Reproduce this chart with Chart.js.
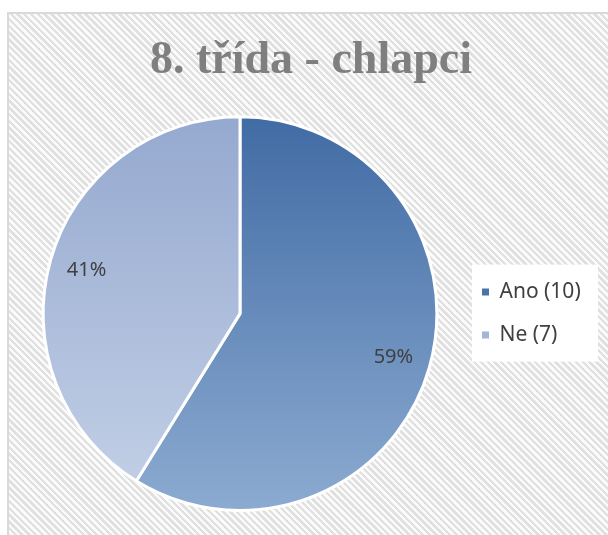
<!DOCTYPE html>
<html>
<head>
<meta charset="utf-8">
<script src="https://cdn.jsdelivr.net/npm/chart.js@4"></script>
<style>
  html, body { margin: 0; padding: 0; background: #fff; }
  #wrap { position: relative; width: 608px; height: 535px; overflow: hidden; }
  #frame {
    position: absolute; left: 7px; top: 12px; width: 640px; height: 560px;
    border: 2px solid #d9d9d9;
    background: repeating-linear-gradient(45deg, #fbfbfb 0 2.4px, #e0e0e0 2.4px 4.8px);
  }
  #chart { position: absolute; left: 0; top: 0; }
</style>
</head>
<body>
<div id="wrap">
  <div id="frame"></div>
  <canvas id="chart" width="608" height="535"></canvas>
</div>
<script>
// 8. třída - chlapci : answers of the boys
const CATEGORIES = ['Ano', 'Ne'];
const COUNTS = [10, 7];

const TEXT = '#404040';
const TITLE_GREY = '#7f7f7f';
const TOP_COLORS = ['#416ba4', '#95a9cf'];
const BOTTOM_COLORS = ['#8cabd1', '#c4d1e7'];
const MARKER_COLORS = ['#4a74aa', '#a3b6d8'];

const total = COUNTS.reduce((a, b) => a + b, 0);

function sliceFill(ctx) {
  const area = ctx.chart.chartArea;
  if (!area) return TOP_COLORS[ctx.dataIndex];
  const g = ctx.chart.ctx.createLinearGradient(0, area.top, 0, area.bottom);
  g.addColorStop(0, TOP_COLORS[ctx.dataIndex]);
  g.addColorStop(1, BOTTOM_COLORS[ctx.dataIndex]);
  return g;
}

// white box behind the legend + legend width fix
const legendBox = {
  id: 'legendBox',
  beforeLayout(chart) {
    const lg = chart.legend;
    if (lg && !lg._patched) {
      const fit = lg.fit;
      lg.fit = function () { fit.call(this); this.width = 142; };
      lg._patched = true;
    }
  },
  beforeDraw(chart) {
    const lg = chart.legend;
    if (!lg || !lg.legendHitBoxes.length) return;
    const hb = lg.legendHitBoxes;
    const ctx = chart.ctx;
    ctx.save();
    ctx.fillStyle = '#ffffff';
    const top = hb[0].top - 17;
    const bottom = hb[hb.length - 1].top + hb[hb.length - 1].height + 16;
    ctx.fillRect(lg.left + 12, top, lg.width - 16, bottom - top);
    ctx.restore();
  }
};

// percentage labels inside the slices
const pctLabels = {
  id: 'pctLabels',
  afterDatasetsDraw(chart) {
    const ctx = chart.ctx;
    const meta = chart.getDatasetMeta(0);
    ctx.save();
    ctx.font = '20px "Noto Sans"';
    ctx.fillStyle = TEXT;
    ctx.textAlign = 'center';
    ctx.textBaseline = 'middle';
    meta.data.forEach((arc, i) => {
      const p = arc.getProps(['x', 'y', 'startAngle', 'endAngle', 'outerRadius'], true);
      const mid = (p.startAngle + p.endAngle) / 2;
      const r = p.outerRadius * 0.81;
      const txt = Math.round(COUNTS[i] / total * 100) + '%';
      ctx.fillText(txt, p.x + Math.cos(mid) * r, p.y + Math.sin(mid) * r);
    });
    ctx.restore();
  }
};

new Chart(document.getElementById('chart'), {
  type: 'pie',
  data: {
    labels: CATEGORIES.map((c, i) => c + ' (' + COUNTS[i] + ')'),
    datasets: [{
      data: COUNTS,
      backgroundColor: sliceFill,
      borderColor: '#ffffff',
      borderWidth: 3
    }]
  },
  options: {
    responsive: false,
    animation: false,
    layout: { padding: { left: 20, right: 6, top: 0, bottom: 23 } },
    plugins: {
      title: {
        display: true,
        text: '8. třída - chlapci',
        color: TITLE_GREY,
        font: { family: '"Liberation Serif"', size: 46, weight: 'bold' },
        padding: { top: 34, bottom: 26 }
      },
      legend: {
        position: 'right',
        fullSize: false,
        labels: {
          color: TEXT,
          font: { family: '"Noto Sans"', size: 21 },
          boxWidth: 7,
          boxHeight: 7,
          padding: 22,
          generateLabels(chart) {
            const items = Chart.controllers.pie.overrides.plugins.legend.labels.generateLabels(chart);
            items.forEach((it, i) => {
              it.fillStyle = MARKER_COLORS[i];
              it.strokeStyle = MARKER_COLORS[i];
              it.lineWidth = 0;
            });
            return items;
          }
        }
      },
      tooltip: { enabled: false }
    }
  },
  plugins: [legendBox, pctLabels]
});
</script>
</body>
</html>
